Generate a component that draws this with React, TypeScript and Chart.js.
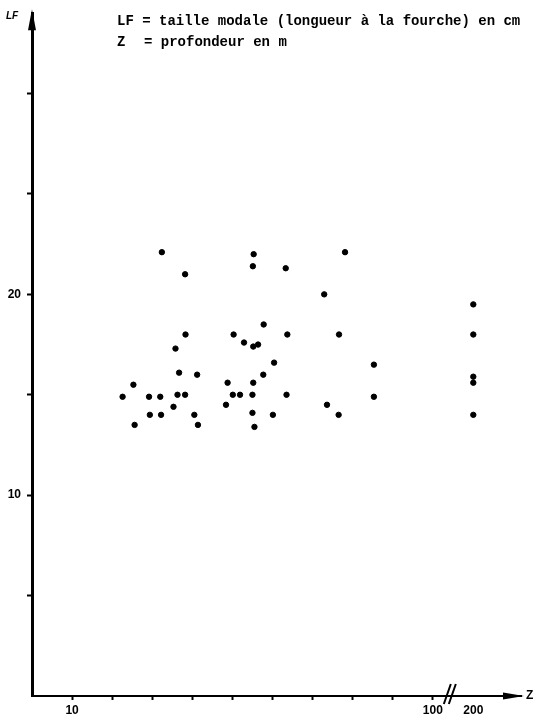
import React, { useEffect, useRef } from "react";
import { Chart, registerables } from "chart.js";

Chart.register(...registerables);

// Depth Z (m) of each sample
const depthZ = [
  22.6, 25.3, 25.6, 29.2, 29.4, 32.0, 32.2, 32.4, 35.3, 35.8, 36.3, 36.7,
  38.2, 38.3, 38.2, 40.5, 41.2, 41.4, 48.4, 48.8, 50.1, 50.3, 51.9, 52.9,
  55.0, 55.0, 55.1, 55.2, 55.2, 55.3, 55.5, 56.4, 57.7, 57.8, 60.1, 60.4,
  63.3, 63.5, 63.7, 72.9, 73.6, 76.5, 76.6, 78.1, 85.3, 85.3,
  200, 200, 200, 200, 200,
];

// Modal fork length LF (cm) of each sample
const lengthLF = [
  14.9, 15.5, 13.5, 14.9, 14.0, 14.9, 14.0, 22.1, 14.4, 17.3, 15.0, 16.1,
  21.0, 18.0, 15.0, 14.0, 16.0, 13.5, 14.5, 15.6, 15.0, 18.0, 15.0, 17.6,
  15.0, 14.1, 21.4, 17.4, 15.6, 22.0, 13.4, 17.5, 16.0, 18.5, 14.0, 16.6,
  21.3, 15.0, 18.0, 20.0, 14.5, 14.0, 18.0, 22.1, 16.5, 14.9,
  19.5, 18.0, 15.9, 15.6, 14.0,
];

const xTickValues = [10, 20, 30, 40, 50, 60, 70, 80, 90, 100, 200];
const xTickLabels = ["10", "", "", "", "", "", "", "", "", "100", "200"];
const yLabelledTicks = [10, 20];

const legendLine1 = "LF = taille modale (longueur à la fourche) en cm";
const legendLine2a = "Z";
const legendLine2b = "= profondeur en m";

// broken axis: values beyond 100 m are compressed after the "//" mark
const BREAK_AT = 100;
const BREAK_COMPRESS = 0.101;
const axisPos = (z: number) =>
  z <= BREAK_AT ? z : BREAK_AT + (z - BREAK_AT) * BREAK_COMPRESS;

const decorPlugin = {
  id: "decor",
  afterDraw(chart: any) {
    const { ctx, chartArea } = chart;
    const xs = chart.scales.x;
    const { left, right, top, bottom } = chartArea;
    ctx.save();
    ctx.fillStyle = "#000";
    ctx.strokeStyle = "#000";

    // y arrow
    ctx.beginPath();
    ctx.moveTo(left, top - 4);
    ctx.lineTo(left - 4, top + 17);
    ctx.lineTo(left + 4, top + 17);
    ctx.closePath();
    ctx.fill();

    // x arrow
    ctx.beginPath();
    ctx.moveTo(right + 3, bottom);
    ctx.lineTo(right - 18, bottom - 3.5);
    ctx.lineTo(right - 18, bottom + 3.5);
    ctx.closePath();
    ctx.fill();

    // axis names
    ctx.font = "italic bold 10px 'Liberation Sans'";
    ctx.textAlign = "left";
    ctx.textBaseline = "alphabetic";
    ctx.fillText("LF", 6, 19);
    ctx.font = "bold 12px 'Liberation Sans'";
    ctx.textBaseline = "middle";
    ctx.fillText("Z", right + 5, bottom);

    // break mark
    const bx = xs.getPixelForValue(BREAK_AT) + 16;
    ctx.lineWidth = 2;
    ctx.beginPath();
    ctx.moveTo(bx - 5, bottom + 8);
    ctx.lineTo(bx + 2, bottom - 12);
    ctx.moveTo(bx, bottom + 8);
    ctx.lineTo(bx + 7, bottom - 12);
    ctx.stroke();

    // legend text
    ctx.font = "bold 14px 'Liberation Mono'";
    ctx.textBaseline = "alphabetic";
    ctx.fillText(legendLine1, 117, 25);
    ctx.fillText(legendLine2a, 117, 46);
    ctx.fillText(legendLine2b, 144, 46);
    ctx.restore();
  },
};

export default function App() {
  const canvasRef = useRef<HTMLCanvasElement | null>(null);

  useEffect(() => {
    if (!canvasRef.current) return;
    const points = depthZ.map((z, i) => ({ x: axisPos(z), y: lengthLF[i] }));
    const chart = new Chart(canvasRef.current, {
      type: "scatter",
      data: {
        datasets: [
          {
            data: points,
            backgroundColor: "#000",
            borderColor: "#000",
            pointRadius: 2.7,
            pointHoverRadius: 2.7,
          },
        ],
      },
      options: {
        animation: false,
        responsive: false,
        events: [],
        layout: { padding: { top: 8, right: 20, left: 0, bottom: 0 } },
        plugins: {
          legend: { display: false },
          tooltip: { enabled: false },
          title: { display: false },
        },
        scales: {
          x: {
            type: "linear",
            min: 0,
            max: 122,
            afterFit: (s: any) => {
              s.height = 22;
            },
            afterBuildTicks: (s: any) => {
              s.ticks = xTickValues.map((v) => ({ value: axisPos(v) }));
            },
            border: { display: true, color: "#000", width: 2 },
            grid: {
              drawOnChartArea: false,
              drawTicks: true,
              tickLength: 4,
              tickWidth: 2,
              tickColor: (c: any) =>
                c.tick && c.tick.value > BREAK_AT ? "rgba(0,0,0,0)" : "#000",
            },
            ticks: {
              autoSkip: false,
              maxRotation: 0,
              padding: 3,
              color: "#000",
              font: { family: "'Liberation Sans'", size: 12, weight: "bold" },
              callback: (v: any, i: number) => xTickLabels[i] ?? "",
            },
          },
          y: {
            type: "linear",
            min: 0,
            max: 34,
            afterFit: (s: any) => {
              s.width = 32;
            },
            border: { display: true, color: "#000", width: 3 },
            grid: {
              drawOnChartArea: false,
              drawTicks: true,
              tickLength: 5,
              tickWidth: 2,
              tickColor: (c: any) =>
                c.tick && (c.tick.value <= 0 || c.tick.value > 30)
                  ? "rgba(0,0,0,0)"
                  : "#000",
            },
            ticks: {
              stepSize: 5,
              padding: 6,
              color: "#000",
              font: { family: "'Liberation Sans'", size: 12, weight: "bold" },
              callback: (v: any) =>
                yLabelledTicks.includes(Number(v)) ? String(v) : "",
            },
          },
        },
      },
      plugins: [decorPlugin],
    });
    return () => chart.destroy();
  }, []);

  return (
    <div
      style={{
        position: "fixed",
        left: 0,
        top: 0,
        width: 541,
        height: 718,
        background: "#fff",
      }}
    >
      <canvas ref={canvasRef} width={541} height={718} />
    </div>
  );
}
